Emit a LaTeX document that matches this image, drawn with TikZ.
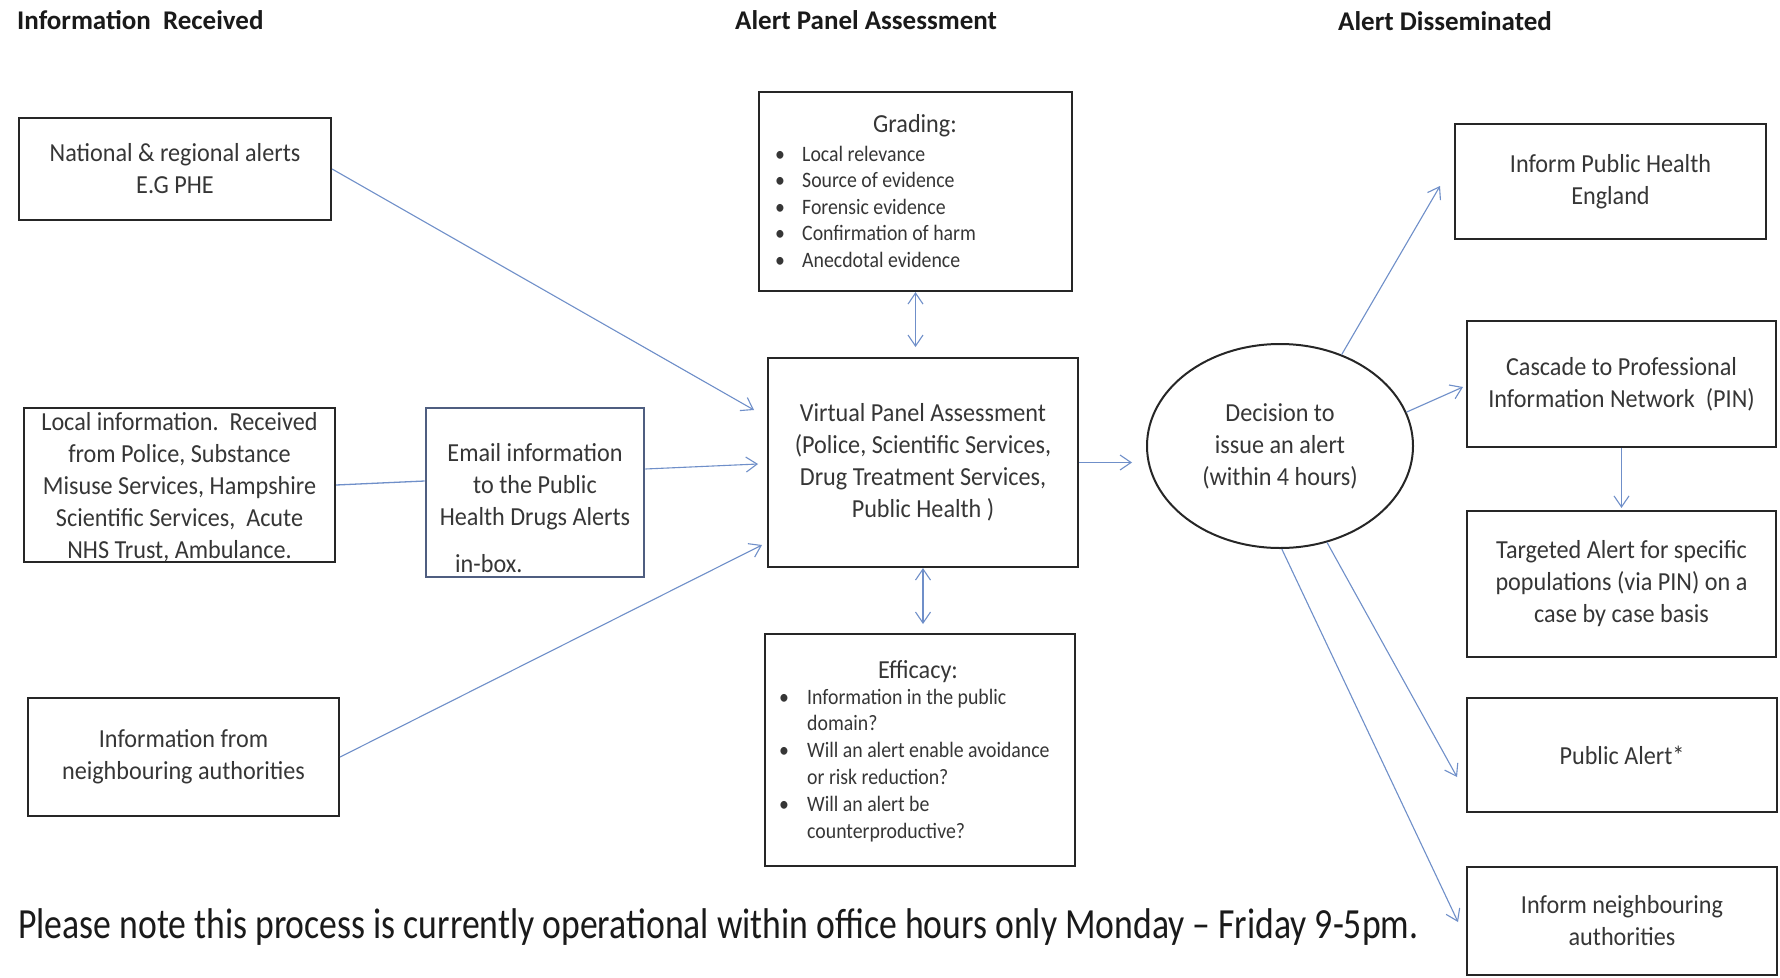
\documentclass[tikz,border=0pt]{standalone}
\usepackage{fontspec}
\setmainfont{Carlito}
\newfontfamily\narrowfont[FakeStretch=0.93]{Carlito}
\newfontfamily\listfont[FakeStretch=0.9]{Carlito}
\newfontfamily\footfont[FakeStretch=0.83]{Carlito}
\usetikzlibrary{arrows.meta,shapes.geometric}
\definecolor{linec}{HTML}{6F8FC9}
\definecolor{boxc}{HTML}{262626}
\definecolor{mailc}{HTML}{4F5E80}
\definecolor{txtc}{HTML}{363636}
\definecolor{headc}{HTML}{1A1A1A}
\tikzset{barb/.tip={Straight Barb[length=11pt,width=15pt]}}

\begin{document}
\begin{tikzpicture}[x=1pt,y=-1pt,
  box/.style={draw=boxc, line width=2.2pt, rectangle, inner sep=0pt, align=center,
    text=txtc, font=\narrowfont\fontsize{26}{32}\selectfont},
  mailbox/.style={box, draw=mailc, line width=2.6pt},
  oval/.style={draw=boxc, line width=2pt, ellipse, inner sep=0pt, align=center,
    text=txtc, font=\narrowfont\fontsize{26}{32}\selectfont},
  txt/.style={inner sep=0pt, align=center, text=txtc, font=\narrowfont\fontsize{26}{32}\selectfont},
  listtxt/.style={inner sep=0pt, text=txtc, font=\listfont\fontsize{22}{26.5}\selectfont},
  colhead/.style={inner sep=0pt, text=headc, font=\fontsize{27}{30}\selectfont\bfseries},
  foot/.style={inner sep=0pt, text=headc, font=\footfont\fontsize{43}{48}\selectfont},
  conn/.style={draw=linec, line width=1.1pt, -{barb}},
  biconn/.style={draw=linec, line width=1.1pt, {barb}-{barb}},
  plain/.style={draw=linec, line width=1.3pt}
]
\useasboundingbox[fill=white] (0,0) rectangle (1780,977);

% column headings
\node[colhead, anchor=west] (h1) at (17,20) {Information\ \ Received};
\node[colhead, anchor=west] (h2) at (735,20) {Alert Panel Assessment};
\node[colhead, anchor=west] (h3) at (1338,21) {Alert Disseminated};

% information received
\node[box, minimum width=312, minimum height=102] (national) at (175,169)
  {National \& regional alerts\\E.G PHE};
\node[box, minimum width=311, minimum height=154] (local) at (179.5,485) {};
\node[txt] (localtxt) at (179.5,487)
  {Local information.\ \ Received\\from Police, Substance\\Misuse Services, Hampshire\\Scientific Services,\ \ Acute\\NHS Trust, Ambulance.};
\node[box, minimum width=311, minimum height=118] (infonb) at (183.5,757)
  {Information from\\neighbouring authorities};
\node[mailbox, minimum width=218, minimum height=169] (email) at (535,492.5) {};
\node[txt] (emailtxt) at (535,487) {Email information\\to the Public\\Health Drugs Alerts};
\node[txt, anchor=west] (inbox) at (455,564) {in-box.};

% panel assessment
\node[box, minimum width=313, minimum height=199] (grading) at (915.5,191.5) {};
\node[txt] (gradhead) at (915,126) {Grading:};
\node[listtxt, anchor=base west] (gradlist) at (775,161)
  {\begin{tabular}[t]{@{}p{27pt}@{}l@{}}
   \textbullet & Local relevance\\
   \textbullet & Source of evidence\\
   \textbullet & Forensic evidence\\
   \textbullet & Confirmation of harm\\
   \textbullet & Anecdotal evidence
   \end{tabular}};
\node[box, minimum width=310, minimum height=209] (virtual) at (923,462.5)
  {Virtual Panel Assessment\\(Police, Scientific Services,\\Drug Treatment Services,\\Public Health )};
\node[box, minimum width=310, minimum height=232] (efficacy) at (920,750) {};
\node[txt] (effhead) at (918,672) {Efficacy:};
\node[listtxt, font=\listfont\fontsize{22}{26.8}\selectfont, anchor=base west] (efflist) at (779,704)
  {\begin{tabular}[t]{@{}p{28pt}@{}l@{}}
   \textbullet & Information in the public\\
   & domain?\\
   \textbullet & Will an alert enable avoidance\\
   & or risk reduction?\\
   \textbullet & Will an alert be\\
   & counterproductive?
   \end{tabular}};

% decision and dissemination
\node[oval, minimum width=266, minimum height=204] (ell) at (1280,446)
  {Decision to\\issue an alert\\(within 4 hours)};
\node[box, minimum width=311, minimum height=115] (phe) at (1610.5,181.5)
  {Inform Public Health\\England};
\node[box, minimum width=309, minimum height=126] (cascade) at (1621.5,384)
  {Cascade to Professional\\Information Network\ \ (PIN)};
\node[box, minimum width=309, minimum height=146] (targeted) at (1621.5,584)
  {Targeted Alert for specific\\populations (via PIN) on a\\case by case basis};
\node[box, minimum width=310, minimum height=114] (public) at (1622,755)
  {Public Alert*};
\node[box, minimum width=310, minimum height=108] (informnb) at (1622,921)
  {Inform neighbouring\\authorities};

% footnote
\node[foot, anchor=base west] (note) at (18,938)
  {Please note this process is currently operational within office hours only Monday – Friday 9-5pm.};

% free ends of the connectors
\coordinate (vin1) at (754,410);
\coordinate (vin2) at (758,464);
\coordinate (vin3) at (762,545);
\coordinate (ein) at (1132,462.5);
\coordinate (gv) at (915.5,347);
\coordinate (ve) at (923,624);
\coordinate (tphe) at (1440,186);
\coordinate (tcas) at (1463,387);
\coordinate (tpub) at (1457,777);
\coordinate (tnb) at (1458,922);

% connectors
\draw[conn] (national.east) -- (vin1);
\draw[plain] (local.east) -- ([yshift=11.5pt]email.west);
\draw[conn] ([yshift=23.5pt]email.east) -- (vin2);
\draw[conn] (infonb.east) -- (vin3);
\draw[conn] (virtual.east) -- (ein);
\draw[biconn] (grading.south) -- (gv);
\draw[biconn] (virtual.south) -- (ve);
\draw[conn] (ell.56) -- (tphe);
\draw[conn] (ell.15) -- (tcas);
\draw[conn] (cascade.south) -- ([yshift=2pt]targeted.north);
\draw[conn] (ell.-64) -- (tpub);
\draw[conn] (ell.-89) -- (tnb);
\end{tikzpicture}
\end{document}
